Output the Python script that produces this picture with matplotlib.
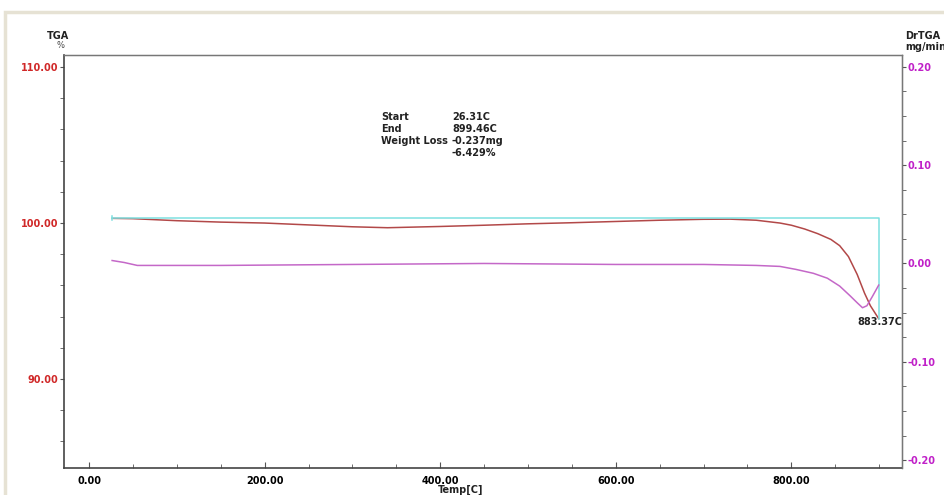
import numpy as np
import matplotlib.pyplot as plt
from matplotlib.patches import Rectangle
from matplotlib.ticker import MultipleLocator, FormatStrFormatter

# TGA curve (%)
temp_tga = [26.31, 50, 100, 150, 200, 250, 300, 340, 400, 450, 500, 550, 600, 650,
            700, 730, 760, 787, 800, 815, 830, 845, 855, 865, 875, 883.37, 890, 899.46]
tga = [100.30, 100.28, 100.15, 100.06, 100.0, 99.88, 99.76, 99.70, 99.78, 99.86, 99.95,
       100.02, 100.10, 100.18, 100.24, 100.25, 100.18, 100.0, 99.86, 99.62, 99.32, 98.95,
       98.55, 97.85, 96.7, 95.5, 94.7, 93.87]

# DrTGA curve (mg/min)
temp_dr = [26.31, 40, 55, 80, 150, 300, 450, 600, 700, 760, 787, 805, 825, 841, 855,
           867, 875, 881, 886, 892, 899.46]
drtga = [0.003, 0.001, -0.002, -0.002, -0.002, -0.001, 0.000, -0.001, -0.001, -0.002,
         -0.003, -0.006, -0.010, -0.015, -0.023, -0.033, -0.040, -0.045, -0.043, -0.034,
         -0.022]

start_t, end_t = 26.31, 899.46
start_w, end_w = 100.30, 93.87
peak_t = 883.37

fig = plt.figure(figsize=(9.45, 4.95), dpi=100)
fig.patches.append(Rectangle((5 / 945, -0.1), 1.2, (495 - 12) / 495 + 0.1,
                             transform=fig.transFigure, fill=False,
                             edgecolor='#e6e2d4', lw=2.5))

ax = fig.add_axes([64 / 945, 27 / 495, 838 / 945, 413 / 495])
ax.set_xlim(-28.5, 926)
ax.set_ylim(84.3, 110.77)

ax.plot(temp_tga, tga, color='#b24848', lw=1.1)
# weight-loss step marker
ax.plot([start_t, end_t, end_t], [start_w, start_w, end_w], color='#7fe0e0', lw=1.1)
ax.plot([start_t, start_t], [start_w - 0.12, start_w + 0.12], color='#7fe0e0', lw=1.1)

ax2 = ax.twinx()
ax2.set_ylim(-0.208, 0.212)
ax2.plot(temp_dr, drtga, color='#c468c8', lw=1.1)

fs = 7
ax.xaxis.set_major_locator(MultipleLocator(200))
ax.xaxis.set_minor_locator(MultipleLocator(50))
ax.xaxis.set_major_formatter(FormatStrFormatter('%.2f'))
ax.yaxis.set_major_locator(MultipleLocator(10))
ax.yaxis.set_minor_locator(MultipleLocator(2))
ax.yaxis.set_major_formatter(FormatStrFormatter('%.2f'))
ax2.yaxis.set_major_locator(MultipleLocator(0.1))
ax2.yaxis.set_minor_locator(MultipleLocator(0.025))
ax2.yaxis.set_major_formatter(FormatStrFormatter('%.2f'))

ax.tick_params(axis='x', which='both', direction='in', length=4, color='#555555',
               labelsize=fs, pad=6)
ax.tick_params(axis='x', which='minor', length=3)
ax.tick_params(axis='y', which='both', direction='out', length=3, color='#555555',
               labelsize=fs, labelcolor='#d02828', pad=1)
ax2.tick_params(axis='y', which='both', direction='out', length=3, color='#555555',
                labelsize=fs, labelcolor='#c020c8', pad=1)
for lab in ax.get_xticklabels() + ax.get_yticklabels() + ax2.get_yticklabels():
    lab.set_fontweight('bold')

for sp in ['left', 'bottom']:
    ax.spines[sp].set_color('#444444')
    ax.spines[sp].set_linewidth(1.2)
for sp in ['top', 'right']:
    ax2.spines[sp].set_color('#777777')
    ax2.spines[sp].set_linewidth(1.0)
ax2.spines['left'].set_visible(False)
ax2.spines['bottom'].set_visible(False)
ax.spines['top'].set_color('#777777')

tkw = dict(fontsize=fs, fontweight='bold', color='#222222')
fig.text(47 / 945, 1 - 36 / 495, 'TGA', ha='left', va='center', **tkw)
fig.text(57 / 945, 1 - 46 / 495, '%', ha='left', va='center', fontsize=6, color='#444444')
fig.text(905 / 945, 1 - 36 / 495, 'DrTGA', ha='left', va='center', **tkw)
fig.text(905 / 945, 1 - 47 / 495, 'mg/min', ha='left', va='center', **tkw)
fig.text(461 / 945, 1 - 490 / 495, 'Temp[C]', ha='center', va='center', **tkw)

rows = [('Start', '26.31C'), ('End', '899.46C'), ('Weight Loss', '-0.237mg'), ('', '-6.429%')]
for i, (k, v) in enumerate(rows):
    y = 1 - (117 + 12 * i) / 495
    fig.text(381 / 945, y, k, ha='left', va='center', **tkw)
    fig.text(452 / 945, y, v, ha='left', va='center', **tkw)

ax.text(peak_t - 8, 94.0, '883.37C', ha='left', va='top', **tkw)

fig.savefig('out.png', dpi=100, facecolor='white')
